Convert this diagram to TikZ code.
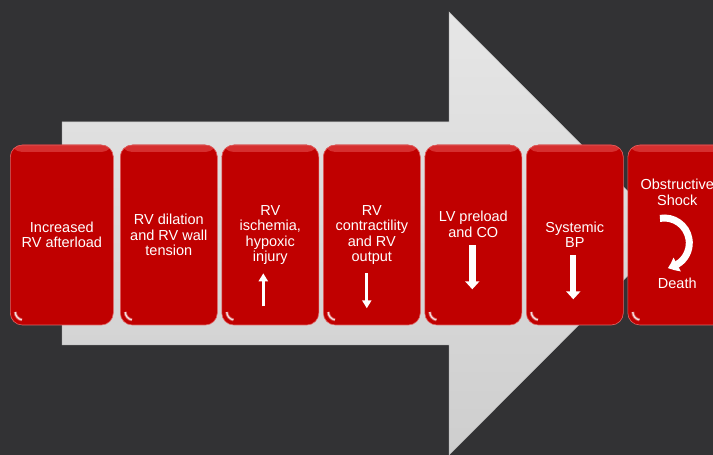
\documentclass[tikz,border=0pt]{standalone}
\usepackage{fontspec}
\setmainfont{Liberation Sans}
\usepackage{xcolor}
\definecolor{slate}{RGB}{50,50,52}
\definecolor{arrowtop}{RGB}{230,230,230}
\definecolor{arrowbot}{RGB}{206,206,206}
\definecolor{boxred}{RGB}{192,0,0}
\definecolor{boxhi}{RGB}{214,48,48}
\definecolor{boxedge}{RGB}{225,100,100}
\usepackage{tikz}
\usetikzlibrary{calc}
\usetikzlibrary{positioning}
\usetikzlibrary{arrows.meta}
\usetikzlibrary{bending}
\newcommand{\widthfirst}{103pt}
\newcommand{\widthbox}{97pt}
\newcommand{\heightbox}{180pt}
\tikzset{
    common/.style={anchor=west, rectangle, rounded corners=12pt, minimum height=\heightbox,
        fill=boxred, draw=boxedge, line width=0.6pt, text=white, align=center, inner sep=2pt,
        font=\fontsize{14.5}{15.5}\selectfont, gloss},
    first/.style={common, minimum width=\widthfirst},
    block/.style={common, minimum width=\widthbox},
    txt/.style={text=white, align=center, font=\fontsize{14.5}{15.5}\selectfont},
    gloss/.style={
        path picture={
            \fill[top color=boxhi, bottom color=boxred, draw=none]
                (path picture bounding box.north west) rectangle ([yshift=-7pt]path picture bounding box.north east);
            \draw[white, opacity=0.35, line width=3pt]
                ([shift={(5pt,13pt)}]path picture bounding box.south west) arc[start angle=180, end angle=260, radius=8pt];
            \draw[white, opacity=0.8, line width=1.3pt]
                ([shift={(5pt,13pt)}]path picture bounding box.south west) arc[start angle=180, end angle=260, radius=8pt];
        }
    },
    thinarrow/.style={white, line width=3.6pt, -{Triangle[width=9pt, length=8pt]}},
    fatarrow/.style={white, line width=6.5pt, -{Triangle[width=14pt, length=8pt]}},
    curvearrow/.style={white, line width=7pt, -{Triangle[width=15pt, length=10pt, bend]}},
    bigarrow/.style={top color=arrowtop, bottom color=arrowbot, draw=black!25, line width=0.5pt}
}

\begin{document}
\begin{tikzpicture}[x=1pt, y=1pt]
        \useasboundingbox (0,0) rectangle (713,455);
        \clip (0,0) rectangle (713,455);
        \fill[slate] (0,0) rectangle (713,455);

        % the big arrow behind the steps
        \path[bigarrow] (62,110) -- (62,333) -- (449,333) -- (449,443) -- (670,221.5)
            -- (449,0) -- (449,110) -- cycle;

        \path
            (10,220) node[first] (afterload) {Increased\\RV afterload}
            ++(110pt,0) node[block] (dilation) {RV dilation\\and RV wall\\tension}
            ++(101.5pt,0) node[block] (ischemia) {RV\\ischemia,\\hypoxic\\injury}
            ++(101.5pt,0) node[block] (contract) {RV\\contractility\\and RV\\output}
            ++(101.5pt,0) node[block, label={[txt, yshift=10.5pt]center:{LV preload\\and CO}}] (preload) {}
            ++(101.5pt,0) node[block] (bp) {Systemic\\BP}
            ++(101.5pt,0) node[block] (shock) {};

        \node[txt] (shock-top) at ($(shock.center)+(1,42.5)$) {Obstructive\\Shock};
        \node[txt] (death) at ($(shock.center)+(1,-48)$) {Death};

        \draw[thinarrow] ($(ischemia.south)+(-7,19)$) -- ($(ischemia.south)+(-7,52)$);
        \draw[thinarrow, line width=3pt] ($(contract.south)+(-5,52)$) -- ($(contract.south)+(-5,17)$);
        \draw[fatarrow] ($(preload.south)+(-1,80)$) -- ($(preload.south)+(-1,36)$);
        \draw[fatarrow, line width=6pt] ($(bp.south)+(-1.5,70)$) -- ($(bp.south)+(-1.5,26)$);
        \draw[curvearrow] ($(shock.center)+(-12,-8)+(100:25pt)$) arc[start angle=100, end angle=-82, radius=25pt];
    \end{tikzpicture}
\end{document}
